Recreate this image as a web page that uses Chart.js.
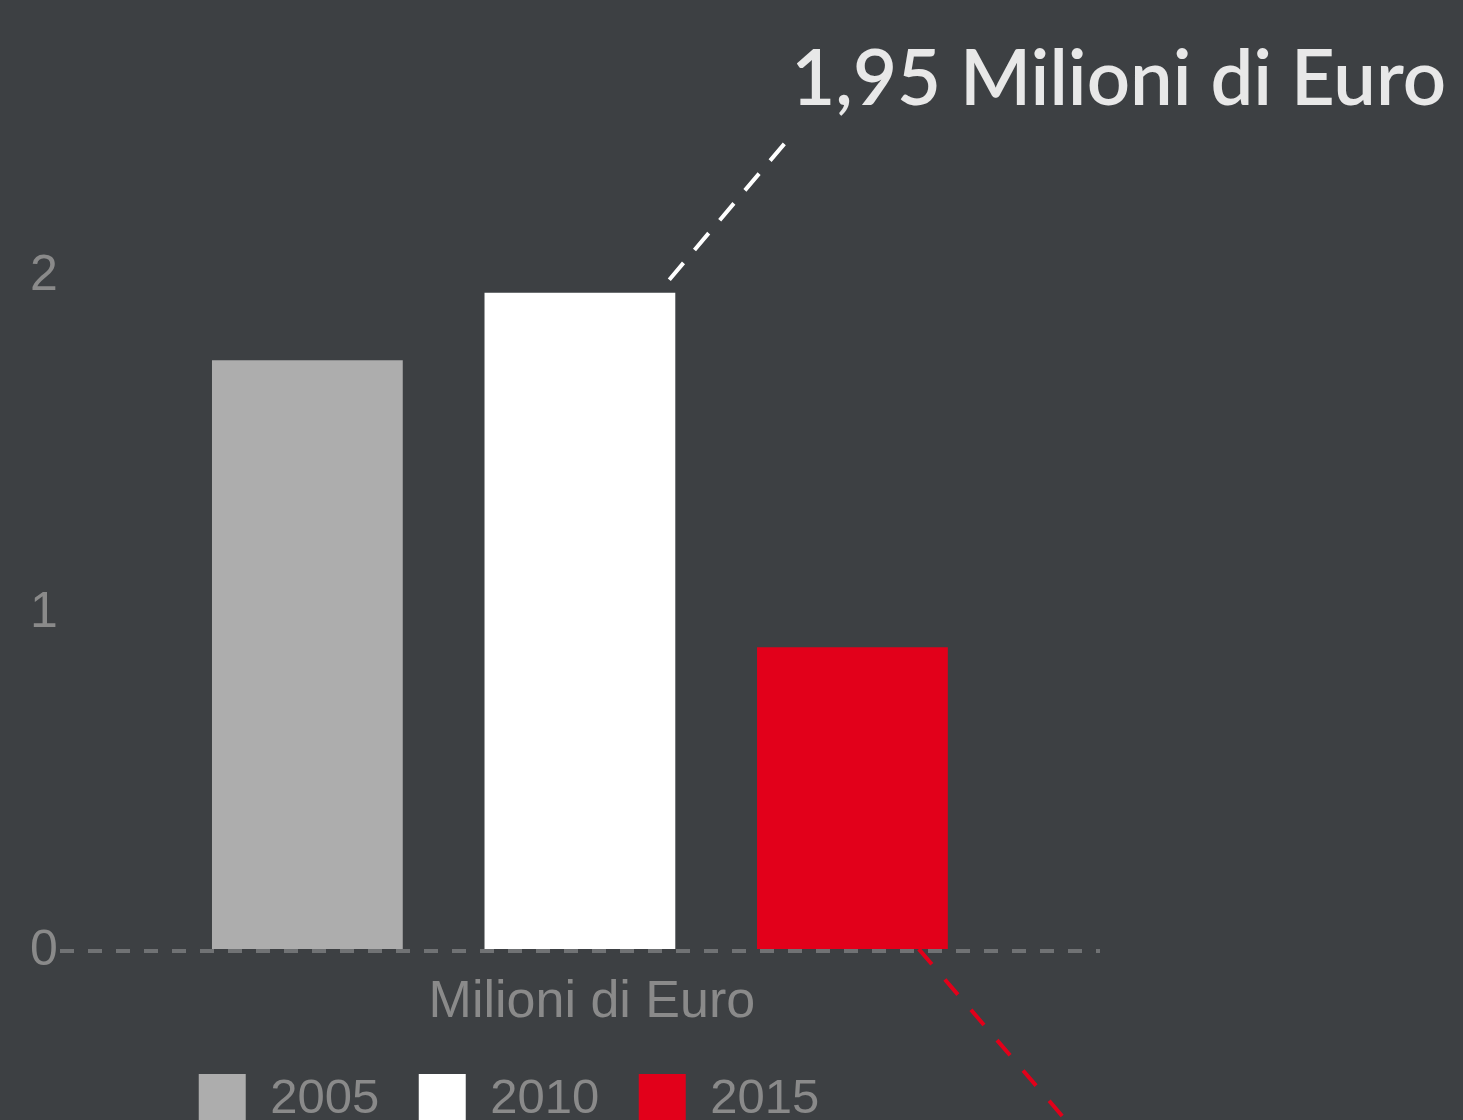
<!DOCTYPE html>
<html>
<head>
  <meta charset="utf-8">
  <script src="https://cdn.jsdelivr.net/npm/chart.js@4.4.0/dist/chart.umd.min.js"></script>
  <style>
    html, body { margin: 0; padding: 0; background: #3d4043; overflow: hidden; }
  </style>
</head>
<body>
<canvas id="chart" width="1463" height="1160"></canvas>
<script>
  // data
  const categories = ['Milioni di Euro'];
  const years = ['2005', '2010', '2015'];
  const values = [1.75, 1.95, 0.9];
  const yTicks = [0, 1, 2];
  const barColors = ['#adadad', '#ffffff', '#e2001a'];

  const axisGrey = '#8a8a8a';

  // callout lines + big label, anchored on the bars themselves
  const callouts = {
    id: 'callouts',
    afterLayout(chart) {
      // legend row sits left of centre and a bit higher in the original
      chart.legend.left -= 55;
      chart.legend.right -= 55;
      chart.legend.top -= 19;
      chart.legend.bottom -= 19;
    },
    afterDatasetsDraw(chart) {
      const ctx = chart.ctx;
      const top = chart.getDatasetMeta(1).data[0];
      const red = chart.getDatasetMeta(2).data[0];

      ctx.save();
      ctx.lineWidth = 4;
      ctx.setLineDash([22, 17]);

      // white line from the 2010 bar up to the label
      const x0 = top.x + top.width / 2 - 6, y0 = top.y - 13;
      const x1 = x0 + 116, y1 = y0 - 137;
      ctx.strokeStyle = '#ffffff';
      ctx.beginPath();
      ctx.moveTo(x0, y0);
      ctx.lineTo(x1, y1);
      ctx.stroke();

      // red line leaving the 2015 bar downwards
      const rx = red.x + red.width / 2 - 29, ry = red.base;
      ctx.strokeStyle = '#e2001a';
      ctx.setLineDash([20, 20]);
      ctx.beginPath();
      ctx.moveTo(rx, ry);
      ctx.lineTo(rx + 280, ry + 326);
      ctx.stroke();

      ctx.setLineDash([]);
      ctx.fillStyle = '#e8e8e8';
      ctx.font = '600 76px Lato';
      ctx.textBaseline = 'alphabetic';
      ctx.textAlign = 'left';
      const label = values[1].toLocaleString('it-IT') + ' ' + categories[0];
      ctx.fillText(label, x1 + 6, y1 - 38);
      ctx.restore();
    }
  };

  new Chart(document.getElementById('chart'), {
    type: 'bar',
    data: {
      labels: categories,
      datasets: years.map((y, i) => ({
        label: y,
        data: [values[i]],
        backgroundColor: barColors[i],
        borderWidth: 0,
        categoryPercentage: 0.786,
        barPercentage: 0.7
      }))
    },
    options: {
      responsive: false,
      animation: false,
      events: [],
      devicePixelRatio: 1,
      layout: { padding: { left: 28, right: 363, top: 107, bottom: 7 } },
      scales: {
        x: {
          grid: { display: false, drawTicks: false },
          border: { display: false },
          ticks: {
            color: axisGrey,
            font: { family: 'Liberation Sans', size: 52 },
            padding: 20,
            labelOffset: 12
          }
        },
        y: {
          min: 0,
          max: 2.5,
          // only the zero line is drawn, dashed
          grid: {
            drawTicks: false,
            lineWidth: 4,
            color: (c) => (c.tick && c.tick.value === 0 ? '#707274' : 'rgba(0,0,0,0)')
          },
          border: { display: false, dash: [14, 14] },
          afterBuildTicks: (scale) => { scale.ticks = yTicks.map(v => ({ value: v })); },
          ticks: {
            color: axisGrey,
            font: { family: 'Liberation Sans', size: 50 },
            padding: 2
          }
        }
      },
      plugins: {
        legend: {
          position: 'bottom',
          labels: {
            color: axisGrey,
            font: { family: 'Liberation Sans', size: 49 },
            boxWidth: 47,
            boxHeight: 50,
            padding: 39.5
          }
        },
        tooltip: { enabled: false }
      }
    },
    plugins: [callouts]
  });
</script>
</body>
</html>
